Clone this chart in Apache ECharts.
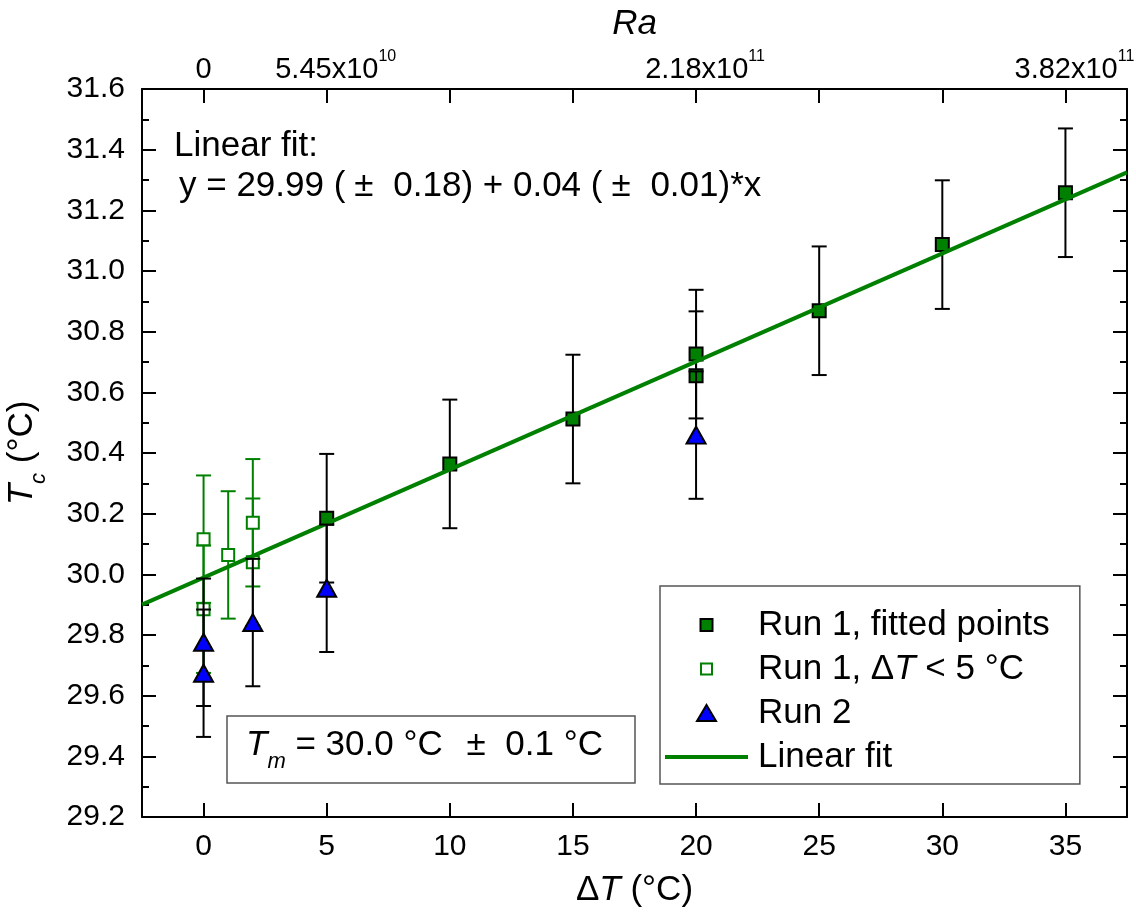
<!DOCTYPE html>
<html><head><meta charset="utf-8">
<script src="https://cdn.jsdelivr.net/npm/echarts@6/dist/echarts.min.js"></script>
<style>html,body{margin:0;padding:0;background:#fff}#c{width:1136px;height:912px}</style>
</head><body><div id="c"></div>
<script>
// ---- data ----
const fittedX = [5, 10, 15, 20, 20, 25, 30, 35];
const fittedY = [30.185, 30.364, 30.512, 30.726, 30.655, 30.869, 31.087, 31.258];
const fittedErr = [0.212, 0.212, 0.212, 0.212, 0.212, 0.212, 0.212, 0.212];

const openX = [0, 0, 1, 2, 2];
const openY = [30.116, 29.885, 30.064, 30.170, 30.040];
const openErr = [0.21, 0.21, 0.21, 0.21, 0.21];

const run2X = [0, 0, 2, 5, 20];
const run2Y = [29.776, 29.674, 29.841, 29.954, 30.459];
const run2Err = [0.21, 0.21, 0.21, 0.21, 0.21];

const fitX = [-2.5, 37.5];
const fitY = [29.90, 31.325];

const xTicks = [0, 5, 10, 15, 20, 25, 30, 35];
const raLabelPos = [0, 5, 20, 35];
const raLabelMant = ['0', '5.45x10', '2.18x10', '3.82x10'];
const raLabelExp = ['', '10', '11', '11'];

const yMin = 29.2, yMax = 31.6, yStep = 0.2;

// ---- styling ----
const FF = 'Liberation Sans, Arial, sans-serif';
const GREEN = '#008000';
const BLUE = '#0000ff';
const BLACK = '#000';

function errSeries(name, xs, ys, es, color, z) {
  return {
    type: 'custom', name: name, z: z, silent: true,
    xAxisIndex: 0, yAxisIndex: 0,
    data: xs.map((x, i) => [x, ys[i], es[i]]),
    encode: { x: 0, y: 1 },
    renderItem: function (params, api) {
      const x = api.value(0), y = api.value(1), e = api.value(2);
      const t = api.coord([x, y + e]), b = api.coord([x, y - e]);
      const hw = 7.5;
      const st = { stroke: color, lineWidth: 2 };
      return { type: 'group', children: [
        { type: 'line', shape: { x1: t[0], y1: t[1], x2: b[0], y2: b[1] }, style: st },
        { type: 'line', shape: { x1: t[0] - hw, y1: t[1], x2: t[0] + hw, y2: t[1] }, style: st },
        { type: 'line', shape: { x1: b[0] - hw, y1: b[1], x2: b[0] + hw, y2: b[1] }, style: st }
      ]};
    }
  };
}

const axisLineStyle = { color: BLACK, width: 2 };
const tickStyle = { color: BLACK, width: 2 };

const option = {
  animation: false,
  backgroundColor: '#fff',
  textStyle: { fontFamily: FF, color: BLACK },
  grid: { left: 142, right: 9, top: 89, bottom: 95, containLabel: false, outerBoundsMode: 'none' },
  xAxis: [
    {
      type: 'value', position: 'bottom', min: -2.5, max: 37.5,
      axisLine: { show: true, onZero: false, lineStyle: axisLineStyle },
      axisTick: { show: true, inside: true, length: 14, customValues: xTicks, lineStyle: tickStyle },
      axisLabel: { customValues: xTicks, fontSize: 30, margin: 15, color: BLACK, fontFamily: FF },
      splitLine: { show: false },
      name: 'Δ{it|T} (°C)', nameLocation: 'middle', nameGap: 53,
      nameTextStyle: { fontSize: 35, lineHeight: 40, color: BLACK, fontFamily: FF,
        rich: { it: { fontStyle: 'italic', fontSize: 35, lineHeight: 40, fontFamily: FF, color: BLACK } } }
    },
    {
      type: 'value', position: 'top', min: -2.5, max: 37.5,
      axisLine: { show: true, onZero: false, lineStyle: axisLineStyle },
      axisTick: { show: true, inside: true, length: 14, customValues: xTicks, lineStyle: tickStyle },
      axisLabel: {
        customValues: raLabelPos, margin: -2, color: BLACK, fontFamily: FF,
        formatter: function (v) {
          let i = raLabelPos.findIndex(p => Math.abs(p - v) < 1e-6);
          if (i < 0) return '';
          if (!raLabelExp[i]) return '{m|' + raLabelMant[i] + '}';
          return '{pad| }{m|' + raLabelMant[i] + '}{sup|' + raLabelExp[i] + '}';
        },
        rich: {
          m: { fontSize: 29, lineHeight: 42, fontFamily: FF, color: BLACK },
          sup: { fontSize: 16, lineHeight: 16, verticalAlign: 'top', fontFamily: FF, color: BLACK },
          pad: { width: 18, fontSize: 16, lineHeight: 42 }
        }
      },
      splitLine: { show: false },
      name: '{it|Ra}', nameLocation: 'middle', nameGap: 34,
      nameTextStyle: { fontSize: 35, lineHeight: 40, color: BLACK, fontFamily: FF,
        rich: { it: { fontStyle: 'italic', fontSize: 35, lineHeight: 40, fontFamily: FF, color: BLACK } } }
    }
  ],
  yAxis: [
    {
      type: 'value', position: 'left', min: yMin, max: yMax, interval: yStep,
      axisLine: { show: true, onZero: false, lineStyle: axisLineStyle },
      axisTick: { show: true, inside: true, length: 14, lineStyle: tickStyle },
      minorTick: { show: true, splitNumber: 2, length: 7, lineStyle: tickStyle },
      axisLabel: { formatter: v => v.toFixed(1), fontSize: 30, margin: 17, color: BLACK, fontFamily: FF },
      splitLine: { show: false }, minorSplitLine: { show: false },
      name: '{it|T}{sub|c} (°C)', nameLocation: 'middle', nameGap: 92, nameRotate: 90,
      nameTextStyle: { fontSize: 35, lineHeight: 56, color: BLACK, fontFamily: FF,
        rich: {
          it: { fontStyle: 'italic', fontSize: 35, lineHeight: 56, fontFamily: FF, color: BLACK },
          sub: { fontStyle: 'italic', fontSize: 22, lineHeight: 22, verticalAlign: 'bottom', fontFamily: FF, color: BLACK }
        } }
    },
    {
      type: 'value', position: 'right', min: yMin, max: yMax, interval: yStep,
      axisLine: { show: true, onZero: false, lineStyle: axisLineStyle },
      axisTick: { show: true, inside: true, length: 14, lineStyle: tickStyle },
      minorTick: { show: true, splitNumber: 2, length: 7, lineStyle: tickStyle },
      axisLabel: { show: false },
      splitLine: { show: false }, minorSplitLine: { show: false }
    }
  ],
  legend: {
    data: [
      { name: 'Run 1, fitted points', icon: 'path://M0,-2.5M0,0H12V12H0ZM0,14.5' },
      { name: 'Run 1, ΔT < 5 °C', icon: 'path://M0,-3M0,0H11V11H0ZM0,14' },
      { name: 'Run 2', icon: 'path://M0,-0.5M9.5,0L19,16H0ZM0,16.5' },
      { name: 'Linear fit', icon: 'path://M0,-6.5M0,0H83V4H0ZM0,10.5', itemStyle: { borderWidth: 0, color: GREEN } }
    ],
    orient: 'vertical', left: 660, top: 586,
    padding: [20, 30, 8, 5], itemGap: 6, itemWidth: 83, itemHeight: 17,
    symbolKeepAspect: true,
    borderColor: '#555', borderWidth: 1.5, backgroundColor: '#fff',
    selectedMode: false,
    formatter: n => n.replace('ΔT', 'Δ{it|T}'),
    textStyle: { fontSize: 35, lineHeight: 38, color: BLACK, fontFamily: FF, padding: [0, 0, 0, 5],
      rich: { it: { fontStyle: 'italic', fontSize: 35, lineHeight: 38, fontFamily: FF, color: BLACK } } }
  },
  series: [
    errSeries('err-open', openX, openY, openErr, GREEN, 2),
    {
      type: 'scatter', name: 'Run 1, ΔT < 5 °C', z: 3,
      data: openX.map((x, i) => [x, openY[i]]),
      symbol: 'rect', symbolSize: 12,
      itemStyle: { color: '#fff', borderColor: GREEN, borderWidth: 2, opacity: 1 },
      emphasis: { disabled: true }
    },
    errSeries('err-fitted', fittedX, fittedY, fittedErr, BLACK, 4),
    {
      type: 'scatter', name: 'Run 1, fitted points', z: 5,
      data: fittedX.map((x, i) => [x, fittedY[i]]),
      symbol: 'rect', symbolSize: 13,
      itemStyle: { color: GREEN, borderColor: BLACK, borderWidth: 2, opacity: 1 },
      emphasis: { disabled: true }
    },
    {
      type: 'line', name: 'Linear fit', z: 6,
      data: fitX.map((x, i) => [x, fitY[i]]),
      symbol: 'none', showSymbol: false, clip: true,
      lineStyle: { color: GREEN, width: 4 },
      itemStyle: { color: GREEN },
      emphasis: { disabled: true }
    },
    errSeries('err-run2', run2X, run2Y, run2Err, BLACK, 7),
    {
      type: 'scatter', name: 'Run 2', z: 8,
      data: run2X.map((x, i) => [x, run2Y[i]]),
      symbol: 'triangle', symbolSize: [19, 17],
      itemStyle: { color: BLUE, borderColor: BLACK, borderWidth: 2, opacity: 1 },
      emphasis: { disabled: true }
    }
  ],
  graphic: [
    { type: 'text', x: 174, y: 146, z: 100,
      style: { text: 'Linear fit:', fontSize: 35, fontFamily: FF, fill: BLACK, verticalAlign: 'middle', align: 'left' } },
    { type: 'text', x: 179, y: 186, z: 100,
      style: { text: 'y = 29.99 ({pm|±} 0.18) + 0.04 ({pm|±} 0.01)*x', fontSize: 35, fontFamily: FF, fill: BLACK,
        verticalAlign: 'middle', align: 'left',
        rich: { pm: { fontSize: 35, fontFamily: FF, fill: BLACK, padding: [0, 10, 0, 9] } } } },
    { type: 'rect', z: 100, shape: { x: 227, y: 716, width: 408, height: 67 },
      style: { fill: '#fff', stroke: '#555', lineWidth: 1.5 } },
    { type: 'text', x: 246, y: 745, z: 101,
      style: { text: '{it|T}{sub|m} = 30.0 °C {pm|±} 0.1 °C', fontSize: 35, fontFamily: FF, fill: BLACK,
        lineHeight: 56, verticalAlign: 'middle', align: 'left',
        rich: {
          it: { fontStyle: 'italic', fontSize: 35, lineHeight: 56, fontFamily: FF, fill: BLACK },
          sub: { fontStyle: 'italic', fontSize: 22, lineHeight: 22, verticalAlign: 'bottom', fontFamily: FF, fill: BLACK },
          pm: { fontSize: 35, lineHeight: 56, fontFamily: FF, fill: BLACK, padding: [0, 10, 0, 14] }
        } } }
  ]
};

const chart = echarts.init(document.getElementById('c'), null, { renderer: 'canvas' });
chart.setOption(option);
</script>
</body></html>
